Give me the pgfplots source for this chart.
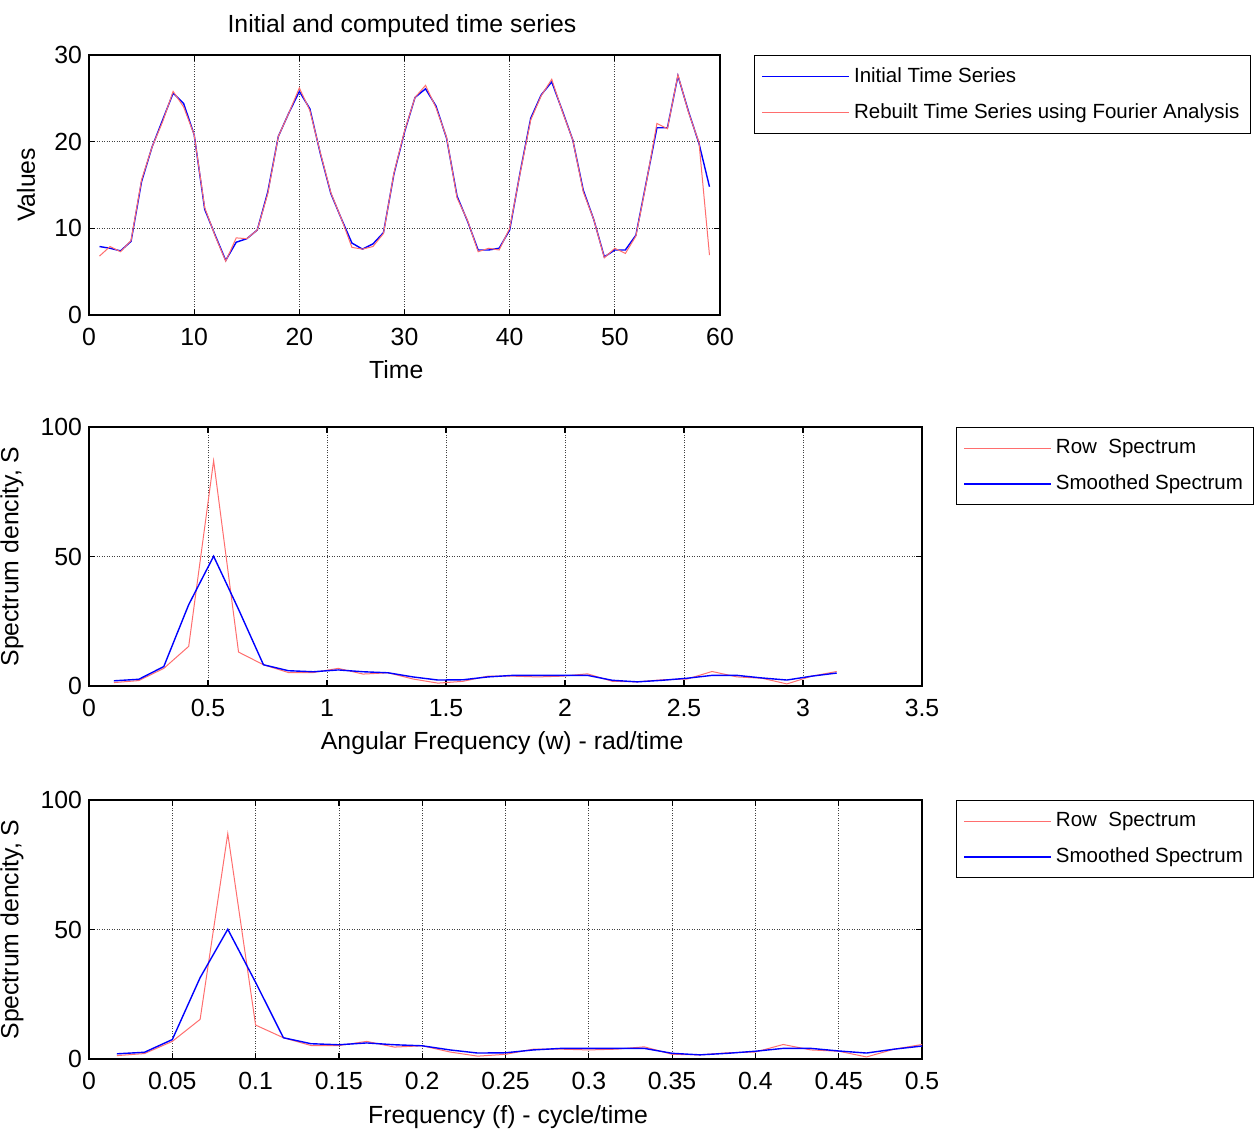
\documentclass[border=0pt]{standalone}
\usepackage{fontspec}
\setmainfont{Liberation Sans}
\usepackage{pgfplots}
\pgfplotsset{compat=1.18}
\usepackage{pgfplotstable}

\definecolor{mblue}{RGB}{0,0,255}
\definecolor{mred}{RGB}{255,110,110}

\pgfplotstableread{
t init rebuilt
1 7.9 6.8
2 7.7 7.9
3 7.4 7.3
4 8.5 8.6
5 15.4 15.6
6 19.4 19.4
7 22.5 22.3
8 25.6 25.8
9 24.4 24.0
10 20.8 20.8
11 12.2 12.4
12 9.2 9.1
13 6.3 6.2
14 8.4 8.9
15 8.8 8.8
16 9.8 9.8
17 14.2 14.0
18 20.6 20.6
19 23.3 23.3
20 25.8 26.2
21 23.8 23.6
22 18.6 18.7
23 14.0 14.1
24 11.1 11.1
25 8.3 7.8
26 7.6 7.6
27 8.2 7.9
28 9.5 9.4
29 16.3 16.4
30 21.1 21.2
31 25.1 25.1
32 26.1 26.5
33 24.1 23.9
34 20.4 20.5
35 13.7 13.5
36 10.8 10.9
37 7.5 7.3
38 7.5 7.7
39 7.7 7.5
40 9.8 10.0
41 16.5 16.4
42 22.7 22.5
43 25.4 25.3
44 26.9 27.2
45 23.6 23.5
46 20.2 20.2
47 14.4 14.2
48 11.0 11.0
49 6.7 6.6
50 7.5 7.7
51 7.5 7.1
52 9.2 9.1
53 15.4 15.3
54 21.6 22.1
55 21.6 21.5
56 27.6 27.7
57 23.5 23.4
58 19.8 19.9
59 14.8 6.9
}\tsdata

\pgfplotstableread{
k w f row smooth
1 0.1047 0.0167 1.3 2.0
2 0.2094 0.0333 2.1 2.6
3 0.3142 0.0500 6.8 7.5
4 0.4189 0.0667 15.3 31.4
5 0.5236 0.0833 87.0 50.1
6 0.6283 0.1000 13.1 29.6
7 0.7330 0.1167 8.2 8.2
8 0.8378 0.1333 5.2 5.9
9 0.9425 0.1500 5.2 5.5
10 1.0472 0.1667 6.8 6.2
11 1.1519 0.1833 4.6 5.5
12 1.2566 0.2000 5.1 5.1
13 1.3614 0.2167 2.7 3.5
14 1.4661 0.2333 1.1 2.3
15 1.5708 0.2500 1.8 2.4
16 1.6755 0.2667 3.8 3.5
17 1.7802 0.2833 3.8 4.1
18 1.8850 0.3000 3.5 4.1
19 1.9897 0.3167 3.8 4.1
20 2.0944 0.3333 4.7 4.1
21 2.1991 0.3500 1.8 2.2
22 2.3038 0.3667 1.6 1.6
23 2.4086 0.3833 2.4 2.2
24 2.5133 0.4000 2.7 3.0
25 2.6180 0.4167 5.6 4.1
26 2.7227 0.4333 3.5 4.1
27 2.8274 0.4500 3.0 3.1
28 2.9322 0.4667 0.8 2.3
29 3.0369 0.4833 3.8 3.8
30 3.1416 0.5000 5.6 5.0
}\specdata

\pgfplotsset{
  mstyle/.style={
    scale only axis,
    anchor=south west,
    axis line style={line width=0.8pt},
    tick align=inside,
    major tick length=3pt,
    tick style={black, line width=0.6pt},
    grid=major,
    major grid style={black!75, line width=0.4pt, dash pattern=on 0.5pt off 0.75pt},
    /pgf/number format/assume math mode=true,
    tick label style={font=\fontsize{12.4}{14}\selectfont},
    xticklabel style={yshift=-3pt},
    label style={font=\fontsize{12.4}{14}\selectfont},
    title style={font=\fontsize{12.4}{14}\selectfont},
    legend cell align=left,
    legend style={draw=black, line width=0.6pt, fill=white,
      font=\fontsize{10.25}{12}\selectfont,
      inner xsep=3.5pt, inner ysep=4pt, row sep=5pt,
      nodes={inner sep=2pt}, anchor=north west},
    legend image code/.code={\path (0pt,0pt) -- (43.5pt,0pt);
      \draw[#1] (5pt,0pt) -- (42pt,0pt);},
  },
}

\begin{document}
\begin{tikzpicture}
\path[use as bounding box] (0,0) rectangle (628.5pt,564.5pt);

% top axis
\begin{axis}[mstyle,
  at={(44.5pt,407pt)}, width=315.5pt, height=130pt,
  xmin=0, xmax=60, ymin=0, ymax=30,
  xtick={0,10,...,60}, ytick={0,10,20,30},
  title={Initial and computed time series},
  title style={at={(axis description cs:0.496,1.065)}, anchor=center, yshift=0pt},
  xlabel={Time},
  xlabel style={at={(axis description cs:0.487,-0.2115)}, anchor=center},
  ylabel={Values},
  ylabel style={at={(axis description cs:-0.0997,0.5)}, anchor=center},
  legend style={at={(axis description cs:1.054,1)}},
]
\addplot[mblue, line width=0.7pt] table[x=t, y=init] {\tsdata};
\addlegendentry{Initial Time Series}
\addplot[mred, line width=0.5pt] table[x=t, y=rebuilt] {\tsdata};
\addlegendentry{Rebuilt Time Series using Fourier Analysis}
\end{axis}

% middle axis
\begin{axis}[mstyle,
  at={(44.5pt,221.5pt)}, width=416.5pt, height=129.5pt,
  xmin=0, xmax=3.5, ymin=0, ymax=100,
  xtick={0,0.5,...,3.5}, ytick={0,50,100},
  xticklabel style={/pgf/number format/fixed, /pgf/number format/precision=2},
  xlabel={Angular Frequency (w) - rad/time},
  xlabel style={at={(axis description cs:0.496,-0.222)}, anchor=center},
  ylabel={Spectrum dencity, S},
  ylabel style={at={(axis description cs:-0.0924,0.5)}, anchor=center},
  legend style={at={(axis description cs:1.0408,1)}},
]
\addplot[mred, line width=0.5pt] table[x=w, y=row] {\specdata};
\addlegendentry{Row\ \ Spectrum}
\addplot[mblue, line width=0.7pt] table[x=w, y=smooth] {\specdata};
\addlegendentry{Smoothed Spectrum}
\end{axis}

% bottom axis
\begin{axis}[mstyle,
  at={(44.5pt,35pt)}, width=416.5pt, height=129.5pt,
  xmin=0, xmax=0.5, ymin=0, ymax=100,
  xtick={0,0.05,0.1,0.15,0.2,0.25,0.3,0.35,0.4,0.45,0.5}, ytick={0,50,100},
  xticklabel style={/pgf/number format/fixed, /pgf/number format/precision=2},
  xlabel={Frequency (f) - cycle/time},
  xlabel style={at={(axis description cs:0.503,-0.226)}, anchor=center},
  ylabel={Spectrum dencity, S},
  ylabel style={at={(axis description cs:-0.0924,0.5)}, anchor=center},
  legend style={at={(axis description cs:1.0408,1)}},
]
\addplot[mred, line width=0.5pt] table[x=f, y=row] {\specdata};
\addlegendentry{Row\ \ Spectrum}
\addplot[mblue, line width=0.7pt] table[x=f, y=smooth] {\specdata};
\addlegendentry{Smoothed Spectrum}
\end{axis}
\end{tikzpicture}
\end{document}
